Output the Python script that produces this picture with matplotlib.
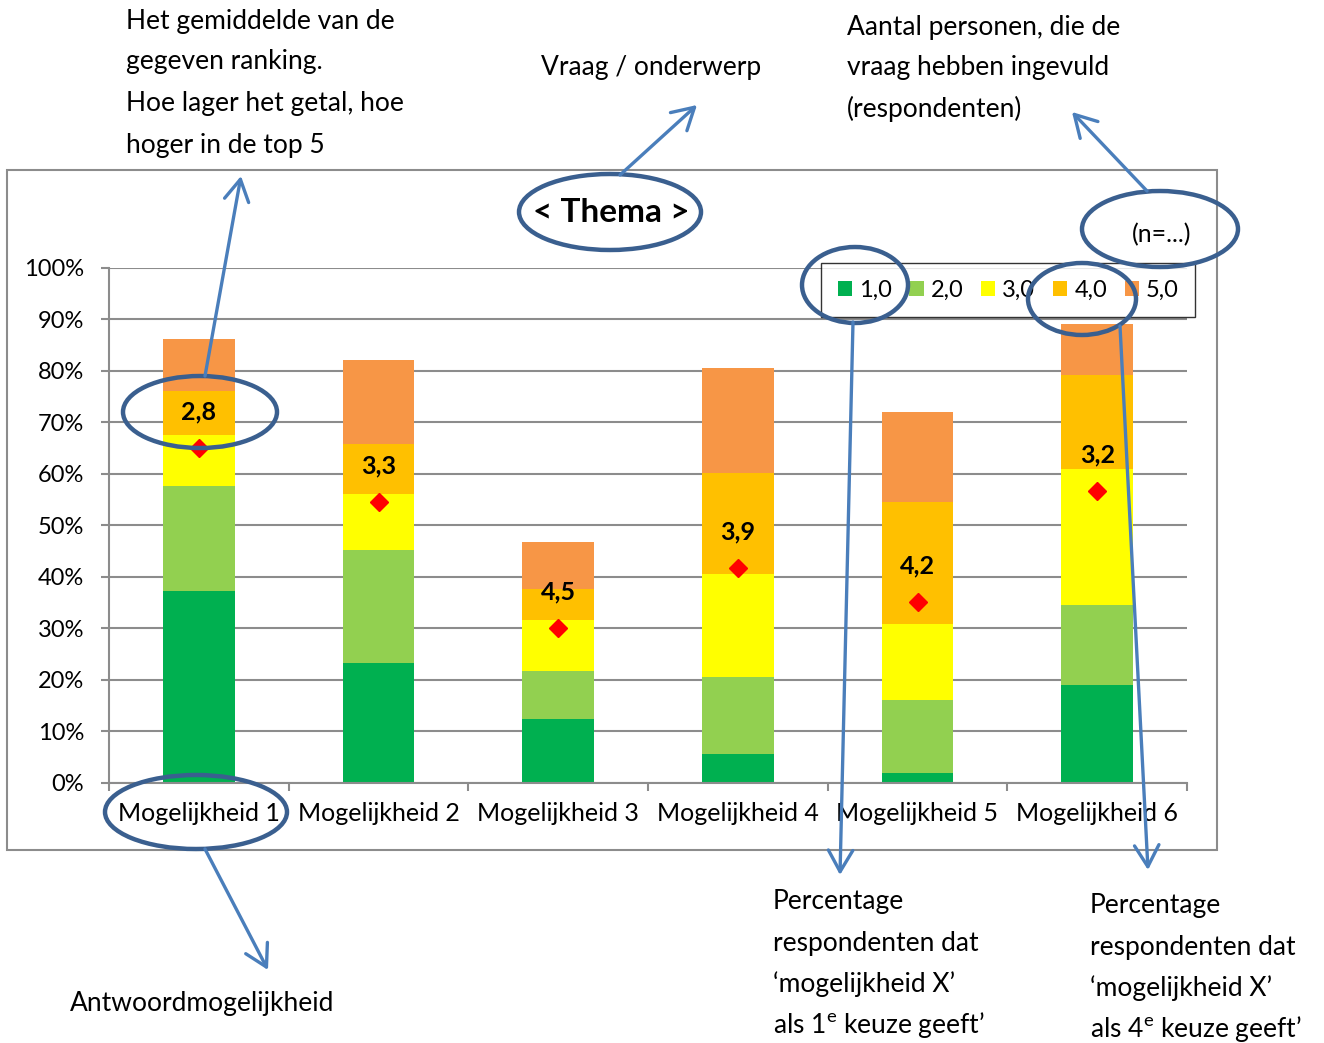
import matplotlib
matplotlib.use("Agg")
import matplotlib.pyplot as plt
import numpy as np
from matplotlib.patches import Ellipse, FancyArrowPatch, Rectangle

# data (percent of respondents per rank)
categories = ["Mogelijkheid 1", "Mogelijkheid 2", "Mogelijkheid 3",
              "Mogelijkheid 4", "Mogelijkheid 5", "Mogelijkheid 6"]
rank_labels = ["1,0", "2,0", "3,0", "4,0", "5,0"]
rank1 = [37.2, 23.2, 12.3, 5.6, 1.9, 18.9]
rank2 = [20.4, 21.9, 9.3, 15.0, 14.1, 15.7]
rank3 = [9.9, 10.9, 9.9, 19.9, 14.9, 26.3]
rank4 = [8.6, 9.8, 6.2, 19.6, 23.6, 18.3]
rank5 = [10.1, 16.3, 9.0, 20.4, 17.5, 9.9]
mean_pos = [65.0, 54.5, 30.0, 41.6, 35.0, 56.6]
mean_labels = ["2,8", "3,3", "4,5", "3,9", "4,2", "3,2"]
colors = ["#00B050", "#92D050", "#FFFF00", "#FFC000", "#F79646"]

plt.rcParams['font.family'] = ['Lato', 'DejaVu Sans']
plt.rcParams['mathtext.fontset'] = 'custom'
plt.rcParams['mathtext.rm'] = 'Lato'

W, H = 1324, 1043
fig = plt.figure(figsize=(W / 100, H / 100), dpi=100)
grey = '#8c8c8c'

# outer chart frame
fig.patches.append(Rectangle((7 / W, 1 - 850 / H), 1210 / W, 680 / H,
                             transform=fig.transFigure, fill=False,
                             edgecolor=grey, lw=1.5))

ax = fig.add_axes([109 / W, 1 - 782.7 / H, 1078 / W, 515 / H])
x = np.arange(len(categories))
bottom = np.zeros(len(categories))
for vals, c, lab in zip([rank1, rank2, rank3, rank4, rank5], colors, rank_labels):
    ax.bar(x, vals, 0.4, bottom=bottom, color=c, label=lab, zorder=2)
    bottom += np.array(vals)

ax.plot(x, mean_pos, 'D', color='#FF0000', ms=9, zorder=3)
for xi, yi, t in zip(x, mean_pos, mean_labels):
    ax.annotate(t, (xi, yi), xytext=(0, 26), textcoords='offset points',
                ha='center', va='center', fontweight='bold', fontsize=18, zorder=4)

ax.set_xlim(-0.5, 5.5)
ax.set_ylim(0, 100)
ax.set_yticks(range(0, 101, 10))
ax.set_yticklabels([f"{v}%" for v in range(0, 101, 10)], fontsize=17)
ax.yaxis.grid(True, color=grey, lw=1.5)
ax.set_axisbelow(True)
ax.set_xticks(x)
ax.set_xticklabels(categories, fontsize=18)
ax.set_xticks(np.arange(-0.5, 6, 1), minor=True)
ax.tick_params(axis='x', which='major', length=0, pad=14)
ax.tick_params(axis='x', which='minor', length=6, width=1.5, color=grey)
ax.tick_params(axis='y', length=6, width=1.5, color=grey, pad=12)
for s in ['top', 'right']:
    ax.spines[s].set_visible(False)
for s in ['left', 'bottom']:
    ax.spines[s].set_color(grey)
    ax.spines[s].set_linewidth(1.5)

leg = fig.legend(loc='upper left', bbox_to_anchor=(821 / W, 1 - 263 / H), ncol=5,
                 fontsize=17, frameon=True, fancybox=False, edgecolor='black',
                 handlelength=0.6, handleheight=0.6, handletextpad=0.3,
                 columnspacing=0.75, borderaxespad=0, borderpad=0.7)
leg.get_frame().set_linewidth(1)

# annotation layer in pixel coordinates
ov = fig.add_axes([0, 0, 1, 1], zorder=10)
ov.set_xlim(0, W)
ov.set_ylim(H, 0)
ov.axis('off')
ov.patch.set_alpha(0)

ell_col = '#3A5F8F'
arr_col = '#4A7EBB'

ov.text(611, 213, "< Thema >", ha='center', va='center', fontsize=24, fontweight='bold')
ov.text(1162, 235, "(n=...)", ha='center', va='center', fontsize=18)

for cx, cy, ew, eh in [(610, 212, 182, 76), (1160, 229, 156, 76),
                       (200, 412, 154, 72), (196, 812, 182, 74),
                       (855, 285, 106, 76), (1082, 299, 108, 72)]:
    ov.add_patch(Ellipse((cx, cy), ew, eh, fill=False, edgecolor=ell_col, lw=3.2))

for p0, p1 in [((205, 376), (241, 176)), ((620, 175), (697, 105)),
               ((1147, 191), (1072, 112)), ((205, 849), (268, 970)),
               ((853, 322), (840, 875)), ((1120, 326), (1148, 870))]:
    ov.add_patch(FancyArrowPatch(p0, p1, arrowstyle='->,head_length=0.7,head_width=0.4',
                                 mutation_scale=22, color=arr_col, lw=2.4,
                                 shrinkA=0, shrinkB=0))

blocks = [
    (126, [21, 62, 104, 145], ["Het gemiddelde van de", "gegeven ranking.",
                               "Hoe lager het getal, hoe", "hoger in de top 5"]),
    (541, [68], ["Vraag / onderwerp"]),
    (847, [27, 68, 109], ["Aantal personen, die de", "vraag hebben ingevuld",
                          "(respondenten)"]),
    (70, [1003], ["Antwoordmogelijkheid"]),
    (773, [901, 943, 984, 1025], ["Percentage", "respondenten dat",
                                  "\u2018mogelijkheid X\u2019",
                                  "als 1$^{\\rm e}$ keuze geeft\u2019"]),
    (1090, [906, 947, 988, 1029], ["Percentage", "respondenten dat",
                                   "\u2018mogelijkheid X\u2019",
                                   "als 4$^{\\rm e}$ keuze geeft\u2019"]),
]
for bx, ys, lines in blocks:
    for yy, line in zip(ys, lines):
        ov.text(bx, yy, line, ha='left', va='center', fontsize=19)

fig.savefig("out.png", dpi=100)
